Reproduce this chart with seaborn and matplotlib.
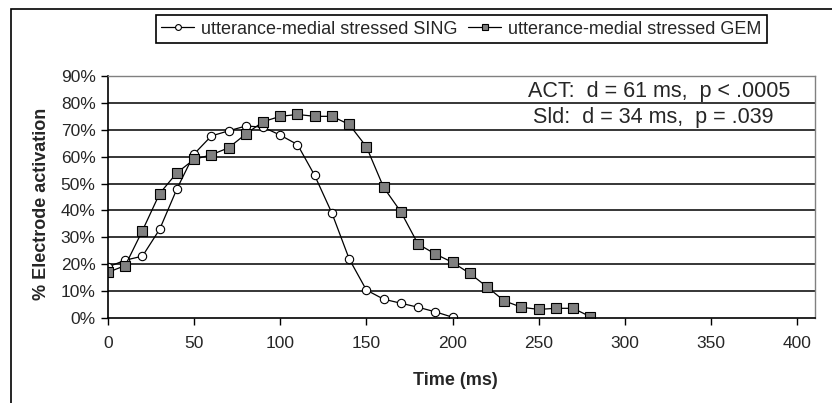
import pandas as pd
import matplotlib
matplotlib.use("Agg")
import matplotlib.pyplot as plt
import seaborn as sns
from matplotlib.patches import Rectangle
from matplotlib.ticker import FuncFormatter

time_sing = list(range(0, 201, 10))
sing = [19, 21.5, 23, 33, 48, 61, 67.7, 69.6, 71.4, 71, 68, 64.5, 53, 39, 22,
        10.4, 7, 5.5, 4, 2.3, 0.3]
time_gem = list(range(0, 281, 10))
gem = [17, 19.5, 32.5, 46.3, 54, 59, 60.7, 63.3, 68.4, 73, 75, 75.7, 75, 75, 72,
       63.7, 48.6, 39.5, 27.5, 23.8, 20.7, 16.6, 11.6, 6.4, 4, 3.2, 3.6, 3.6, 0.5]
sing_label = "utterance-medial stressed SING"
gem_label = "utterance-medial stressed GEM"
notes = ["ACT:  d = 61 ms,  p < .0005", "Sld:  d = 34 ms,  p = .039"]

sns.set_style("white")
plt.rcParams['font.family'] = ['Liberation Sans', 'DejaVu Sans']

fig = plt.figure(figsize=(8.32, 4.03), dpi=100)
ax = fig.add_axes([108/832, 1 - 318/403, 707/832, 242/403])

# chart area border
fig.patches.append(Rectangle((11/832, -0.1), 1.2, 1 - 9/403 + 0.1, transform=fig.transFigure,
                             fill=False, edgecolor='black', linewidth=1.2))

for v in range(10, 90, 10):
    ax.axhline(v, color='black', linewidth=1.1, zorder=0)

sns.lineplot(x=time_sing, y=sing, ax=ax, color='black', linewidth=0.9,
             marker='o', markersize=6, markerfacecolor='white', markeredgecolor='black',
             markeredgewidth=0.8, label=sing_label)
sns.lineplot(x=time_gem, y=gem, ax=ax, color='black', linewidth=0.9,
             marker='s', markersize=7, markerfacecolor='#808080', markeredgecolor='black',
             markeredgewidth=0.8, label=gem_label)

ax.set_xlim(0, 400 * 707 / 689)
ax.set_ylim(0, 90)
ax.set_xticks(range(0, 401, 50))
ax.set_yticks(range(0, 91, 10))
ax.yaxis.set_major_formatter(FuncFormatter(lambda v, p: f"{int(v)}%"))
ax.tick_params(axis='both', direction='out', length=5, width=1, color='black',
               labelsize=12.5, left=True, bottom=True)
ax.tick_params(axis='y', pad=4)
ax.tick_params(axis='x', pad=8)

for s in ['left', 'bottom']:
    ax.spines[s].set_color('black')
    ax.spines[s].set_linewidth(1.2)
for s in ['top', 'right']:
    ax.spines[s].set_color('#808080')
    ax.spines[s].set_linewidth(1)

ax.set_xlabel("Time (ms)", fontsize=13, fontweight='bold')
ax.set_ylabel("% Electrode activation", fontsize=13, fontweight='bold')
ax.xaxis.set_label_coords(0.491, -0.224)
ax.yaxis.set_label_coords(-0.082, 0.47)

fig.text(528/832, 1 - 91/403, notes[0], fontsize=15.5, ha='left', va='center')
fig.text(533/832, 1 - 118/403, notes[1], fontsize=15.5, ha='left', va='center')

leg = ax.legend(loc='center', bbox_to_anchor=((155 + 768) / 2 / 832, 1 - 29 / 403),
                bbox_transform=fig.transFigure, ncol=2, fontsize=13, frameon=True,
                fancybox=False, edgecolor='black', framealpha=1, handlelength=1.8,
                handletextpad=0.4, columnspacing=0.6, borderpad=0.3, markerscale=0.7)
leg.get_frame().set_linewidth(1.2)

fig.savefig("out.png", dpi=100)
